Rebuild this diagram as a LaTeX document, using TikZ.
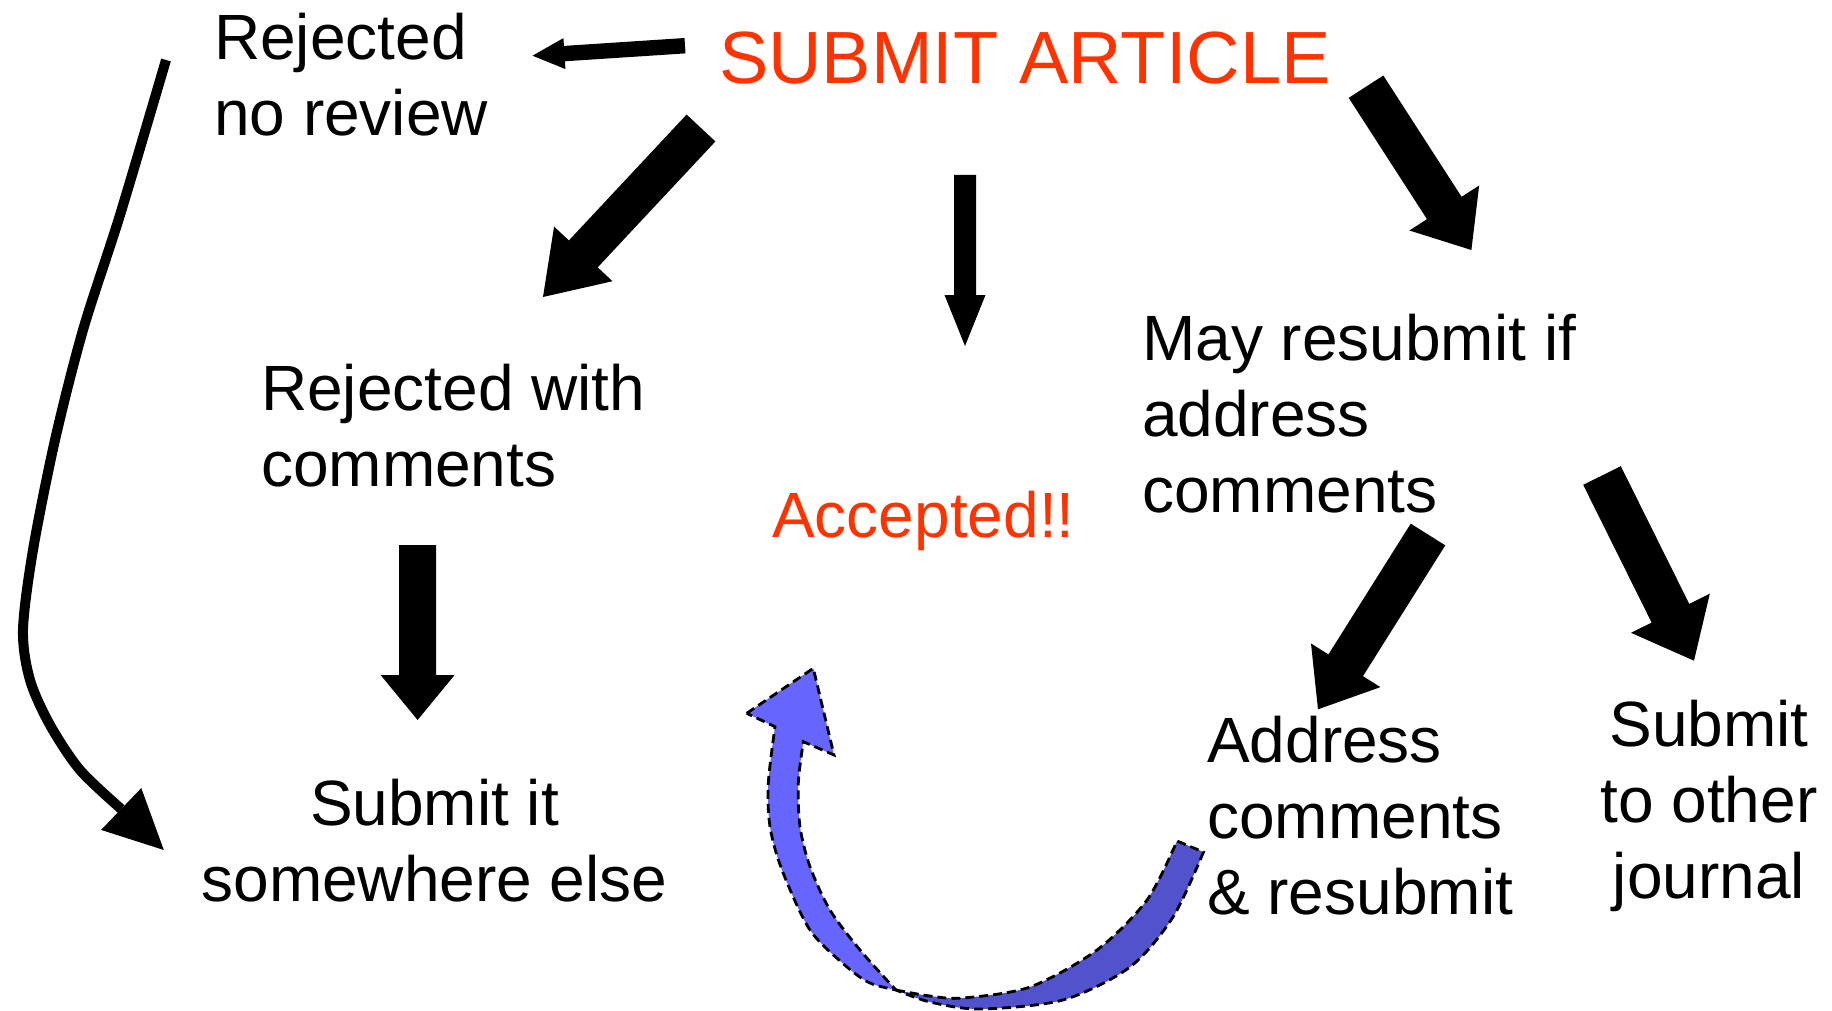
\documentclass[tikz,border=0pt]{standalone}
\usepackage{fontspec}
\setmainfont{Liberation Sans}
\usetikzlibrary{calc}
\definecolor{subred}{HTML}{FF3300}
\definecolor{ribbonlight}{HTML}{6666FF}
\definecolor{ribbondark}{HTML}{5252CC}
% block arrow: #1 tail centre, #2 tip, #3 half shaft width, #4 half head width, #5 head length
\newcommand\blockarrow[5]{%
  \coordinate (ba-base) at ($(#2)!#5pt!(#1)$);
  \fill[black] ($(#1)!#3pt!90:(#2)$) -- ($(ba-base)!#3pt!90:(#2)$) -- ($(ba-base)!#4pt!90:(#2)$)
    -- (#2) -- ($(ba-base)!#4pt!-90:(#2)$) -- ($(ba-base)!#3pt!-90:(#2)$) -- ($(#1)!#3pt!-90:(#2)$) -- cycle;
}
\tikzset{
  lbl/.style={font=\fontsize{64}{76}\selectfont, inner sep=0pt, text=black},
  ribbonedge/.style={draw=black, line width=2.8pt, dash pattern=on 9pt off 5pt},
}
\begin{document}
\begin{tikzpicture}[x=1pt,y=-1pt]
\useasboundingbox[fill=white] (0,0) rectangle (1832,1011);

% ---- texts (base anchor = baseline of the last line) ----
\node[lbl, text=subred, font=\fontsize{74}{88}\selectfont, anchor=base west] (submit) at (719,84) {SUBMIT ARTICLE};
\node[lbl, align=left, anchor=base west] (rej) at (214,135.5) {Rejected\\no review};
\node[lbl, align=left, anchor=base west] (rejc) at (261,486) {Rejected with\\comments};
\node[lbl, align=center, anchor=base] (else) at (434.5,901) {Submit it\\somewhere else};
\node[lbl, text=subred, anchor=base west] (acc) at (772,537.5) {Accepted!!};
\node[lbl, align=left, anchor=base west] (may) at (1142,512) {May resubmit if\\address\\comments};
\node[lbl, align=left, anchor=base west] (addr) at (1207,914) {Address\\comments\\\& resubmit};
\node[lbl, align=center, anchor=base] (other) at (1709,898) {Submit\\to other\\journal};

% ---- block arrows ----
\coordinate (aT) at (685,45.7);   \coordinate (aH) at (532.5,55.7);
\coordinate (bT) at (701,128);    \coordinate (bH) at (543,297);
\coordinate (cT) at (965,175);    \coordinate (cH) at (965,346);
\coordinate (dT) at (1366,86.7);  \coordinate (dH) at (1471.4,250);
\coordinate (eT) at (417.6,545);  \coordinate (eH) at (417.6,720);
\coordinate (fT) at (1428,534.5); \coordinate (fH) at (1318,709.3);
\coordinate (gT) at (1602,475.5); \coordinate (gH) at (1694,660.7);
\blockarrow{aT}{aH}{7.7}{15.5}{32}
\blockarrow{bT}{bH}{19.7}{40}{59}
\blockarrow{cT}{cH}{11}{20.5}{51}
\blockarrow{dT}{dH}{20.6}{41.5}{50}
\blockarrow{eT}{eH}{18.5}{37}{45}
\blockarrow{fT}{fH}{20.4}{41}{52}
\blockarrow{gT}{gH}{21}{44}{53}

% ---- thin curved arrow from "Rejected no review" to "Submit it somewhere else" ----
\coordinate (hS) at (166,60);
\coordinate (hB) at (121.2,809);
\coordinate (hH) at (163.8,850);
\draw[line width=10pt] plot[smooth] coordinates {(hS) (120,215) (83,330) (55,440) (33,550) (23,630) (30,680) (50,725) (80,770) (hB)};
\fill[black] ($(hB)!29pt!90:(hH)$) -- (hH) -- ($(hB)!29pt!-90:(hH)$) -- cycle;

% ---- blue twisted curved arrow ----
\coordinate (rTw) at (896,990);
\coordinate (rTip) at (813.3,668.3);
\path[fill=ribbondark, ribbonedge]
  (rTw) -- plot[smooth] coordinates {(rTw) (930,996) (963,998) (1030,987) (1097,950) (1147,900) (1177,841)}
  -- (1203.5,852)
  -- plot[smooth] coordinates {(1203.5,852) (1173,917) (1130,967) (1063,1000) (980,1009) (930,1002) (rTw)}
  -- cycle;
\path[fill=ribbonlight, ribbonedge]
  (746.7,713.3) -- (rTip) -- (834,755) -- (803.3,741.7)
  -- plot[smooth] coordinates {(803.3,741.7) (798.3,783.3) (800,826.7) (810,866.7) (830,910) (860,950) (rTw)}
  -- plot[smooth] coordinates {(rTw) (870,983) (846.7,966.7) (810,930) (782,870) (770,826.7) (768.3,783.3) (775,726.7)}
  -- cycle;
\end{tikzpicture}
\end{document}
